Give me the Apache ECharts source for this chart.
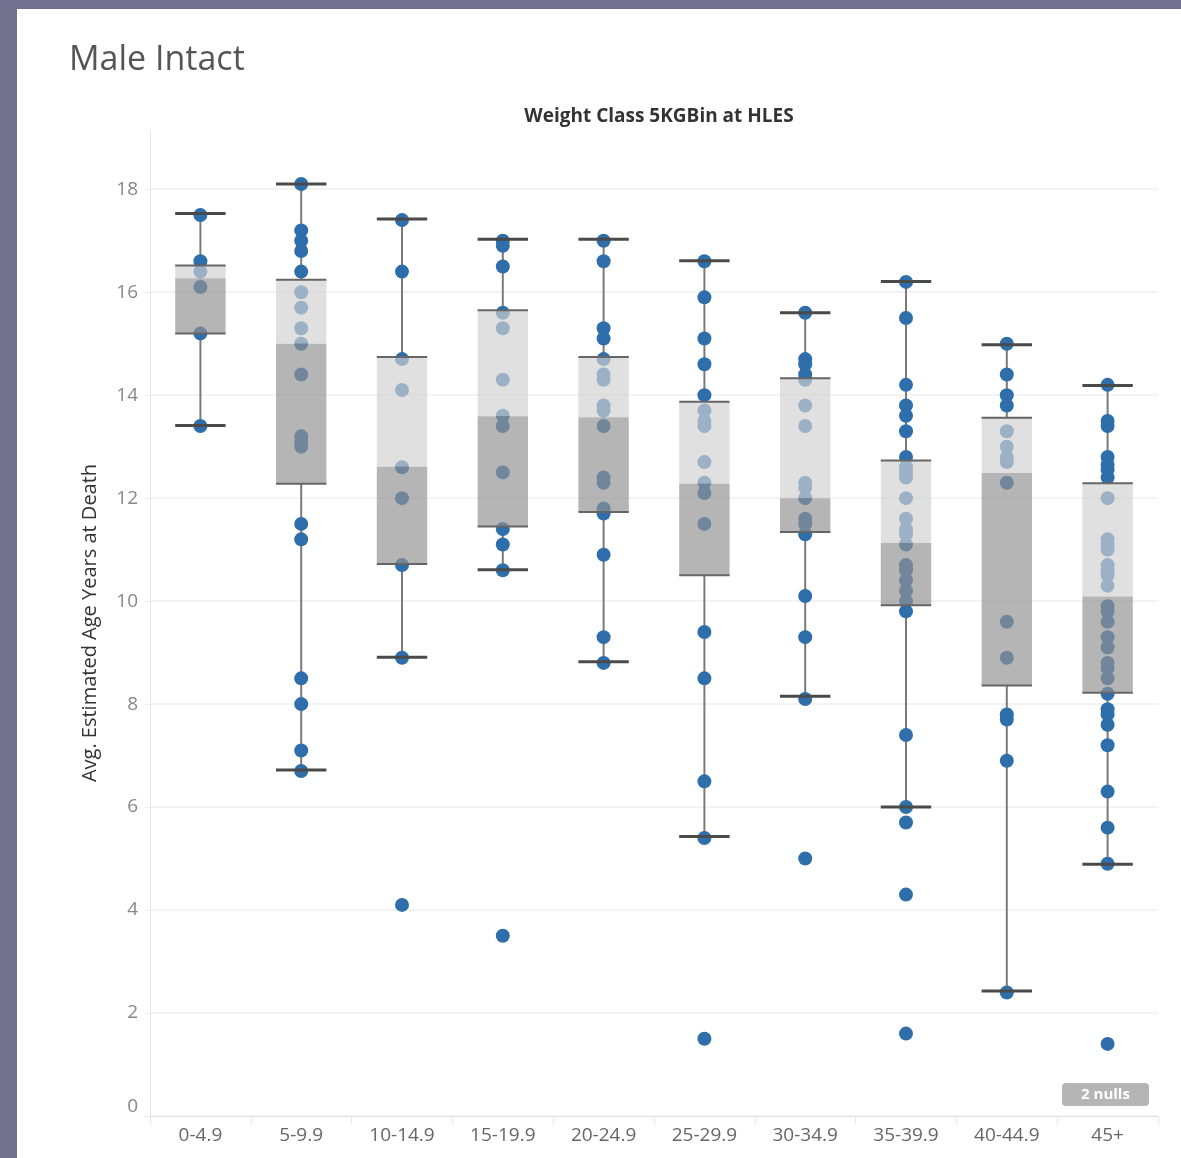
<!DOCTYPE html>
<html><head><meta charset="utf-8">
<script src="https://cdn.jsdelivr.net/npm/echarts@6/dist/echarts.min.js"></script>
<style>html,body{margin:0;padding:0;background:#fff}#c{width:1181px;height:1158px}</style>
</head><body><div id="c"></div>
<script>
const categories = ['0-4.9','5-9.9','10-14.9','15-19.9','20-24.9','25-29.9','30-34.9','35-39.9','40-44.9','45+'];
const whiskerHigh = [17.53, 18.1, 17.42, 17.03, 17.03, 16.61, 15.6, 16.21, 14.98, 14.19];
const boxQ3      = [16.52, 16.24, 14.74, 15.65, 14.74, 13.87, 14.33, 12.73, 13.56, 12.29];
const boxMedian  = [16.27, 15.0, 12.61, 13.59, 13.57, 12.28, 12.0, 11.13, 12.49, 10.09];
const boxQ1      = [15.2, 12.28, 10.72, 11.45, 11.73, 10.5, 11.34, 9.92, 8.36, 8.22];
const whiskerLow = [13.41, 6.72, 8.91, 10.61, 8.82, 5.43, 8.15, 6.0, 2.43, 4.89];

const dots_0_4 = [17.5,16.6,16.4,16.1,15.2,13.4];
const dots_5_9 = [18.1,17.2,17.0,16.8,16.4,16.0,15.7,15.3,15.0,14.4,13.2,13.1,13.0,11.5,11.2,8.5,8.0,7.1,6.7];
const dots_10_14 = [17.4,16.4,14.7,14.1,12.6,12.0,10.7,8.9,4.1];
const dots_15_19 = [17.0,16.9,16.5,15.6,15.3,14.3,13.6,13.4,12.5,11.4,11.1,10.6,3.5];
const dots_20_24 = [17.0,16.6,15.3,15.1,14.7,14.4,14.3,13.8,13.7,13.4,12.4,12.3,11.8,11.7,10.9,9.3,8.8];
const dots_25_29 = [16.6,15.9,15.1,14.6,14.0,13.7,13.5,13.4,12.7,12.3,12.1,11.5,9.4,8.5,6.5,5.4,1.5];
const dots_30_34 = [15.6,14.7,14.6,14.4,14.3,13.8,13.4,12.3,12.2,12.0,11.6,11.5,11.3,10.1,9.3,8.1,5.0];
const dots_35_39 = [16.2,15.5,14.2,13.8,13.6,13.3,12.8,12.6,12.5,12.4,12.0,11.6,11.4,11.3,11.1,10.7,10.6,10.4,10.2,10.0,9.8,7.4,6.0,5.7,4.3,1.6];
const dots_40_44 = [15.0,14.4,14.0,13.8,13.3,13.0,12.8,12.7,12.3,9.6,8.9,7.8,7.7,6.9,2.4];
const dots_45p = [14.2,13.5,13.4,12.8,12.65,12.55,12.4,12.0,11.2,11.1,11.0,10.7,10.6,10.5,10.3,9.9,9.8,9.6,9.3,9.1,8.8,8.7,8.5,8.2,7.9,7.8,7.6,7.2,6.3,5.6,4.9,1.4];

const dotGroups = [dots_0_4, dots_5_9, dots_10_14, dots_15_19, dots_20_24, dots_25_29, dots_30_34, dots_35_39, dots_40_44, dots_45p];

const scatterData = [];
dotGroups.forEach((g, i) => g.forEach(v => scatterData.push([i, v])));
const boxData = categories.map((c, i) => [i, whiskerLow[i], boxQ1[i], boxMedian[i], boxQ3[i], whiskerHigh[i]]);

const chart = echarts.init(document.getElementById('c'), null, {renderer: 'canvas'});

function whiskerRender(params, api) {
  const i = api.value(0);
  const pHigh = api.coord([i, api.value(5)]);
  const pQ3 = api.coord([i, api.value(4)]);
  const pQ1 = api.coord([i, api.value(2)]);
  const pLow = api.coord([i, api.value(1)]);
  const st = {stroke: '#7a7a7a', lineWidth: 2};
  return {type: 'group', children: [
    {type: 'line', shape: {x1: pHigh[0], y1: pHigh[1], x2: pQ3[0], y2: pQ3[1]}, style: st},
    {type: 'line', shape: {x1: pQ1[0], y1: pQ1[1], x2: pLow[0], y2: pLow[1]}, style: st}
  ]};
}

function boxRender(params, api) {
  const i = api.value(0);
  const bw = api.size([1, 0])[0] * 0.5;
  const pHigh = api.coord([i, api.value(5)]);
  const pQ3 = api.coord([i, api.value(4)]);
  const pMed = api.coord([i, api.value(3)]);
  const pQ1 = api.coord([i, api.value(2)]);
  const pLow = api.coord([i, api.value(1)]);
  const x0 = pMed[0] - bw / 2, x1 = pMed[0] + bw / 2;
  const edge = {stroke: '#666666', lineWidth: 2};
  const cap = {stroke: '#4a4a4a', lineWidth: 3};
  return {type: 'group', children: [
    {type: 'rect', shape: {x: x0, y: pQ3[1], width: bw, height: pMed[1] - pQ3[1]}, style: {fill: 'rgba(210,210,210,0.68)'}},
    {type: 'rect', shape: {x: x0, y: pMed[1], width: bw, height: pQ1[1] - pMed[1]}, style: {fill: 'rgba(146,146,146,0.68)'}},
    {type: 'line', shape: {x1: x0, y1: pQ3[1], x2: x1, y2: pQ3[1]}, style: edge},
    {type: 'line', shape: {x1: x0, y1: pQ1[1], x2: x1, y2: pQ1[1]}, style: edge},
    {type: 'line', shape: {x1: x0, y1: pHigh[1], x2: x1, y2: pHigh[1]}, style: cap},
    {type: 'line', shape: {x1: x0, y1: pLow[1], x2: x1, y2: pLow[1]}, style: cap}
  ]};
}

const option = {
  backgroundColor: '#ffffff',
  animation: false,
  title: [
    {text: 'Male Intact', left: 64, top: 38, textStyle: {fontFamily: 'Open Sans', fontSize: 34, fontWeight: 'normal', color: '#555555'}},
    {text: 'Weight Class 5KGBin at HLES', left: 654, textAlign: 'center', top: 102, textStyle: {fontFamily: 'Open Sans', fontSize: 19, fontWeight: 'bold', color: '#333333'}}
  ],
  graphic: [
    {type: 'rect', left: 0, top: 0, shape: {width: 17, height: 1158}, style: {fill: '#736f8e'}, z: 100},
    {type: 'rect', left: 0, top: 0, shape: {width: 1181, height: 9}, style: {fill: '#736f8e'}, z: 100},
    {type: 'group', left: 1062, top: 1083, z: 100, children: [
      {type: 'rect', shape: {x: 0, y: 0, width: 87, height: 23, r: 4}, style: {fill: '#b5b5b5'}},
      {type: 'text', x: 43.5, y: 12, style: {text: '2 nulls', fill: '#ffffff', font: 'bold 15px "Open Sans"', align: 'center', verticalAlign: 'middle'}}
    ]}
  ],
  grid: {left: 150, right: 23, top: 130, bottom: 42, containLabel: false},
  xAxis: {
    type: 'category', data: categories, boundaryGap: true,
    axisLine: {lineStyle: {color: '#e2e2e2', width: 1}},
    axisTick: {show: true, length: 8, lineStyle: {color: '#e6e6e6'}},
    axisLabel: {color: '#666666', fontSize: 19, fontFamily: 'Open Sans', margin: 10},
    splitLine: {show: false}
  },
  yAxis: {
    type: 'value', min: 0, max: 19.15, interval: 2,
    name: 'Avg. Estimated Age Years at Death', nameLocation: 'middle', nameGap: 50, nameRotate: 90,
    nameTextStyle: {color: '#333333', fontSize: 20, fontFamily: 'Open Sans'},
    axisLine: {show: true, lineStyle: {color: '#e6e6e6', width: 1}},
    axisTick: {show: true, length: 6, lineStyle: {color: '#eeeeee'}},
    axisLabel: {color: '#888888', fontSize: 19, fontFamily: 'Open Sans', margin: 12, showMaxLabel: false,
      verticalAlignMinLabel: 'bottom',
      formatter: v => (Math.abs(v % 2) < 1e-9 ? String(v) : '')},
    splitLine: {show: true, showMaxLine: false, lineStyle: {color: '#efefef', width: 1.5}}
  },
  series: [
    {type: 'custom', name: 'whiskers', z: 1, renderItem: whiskerRender, data: boxData, encode: {x: 0, y: [1, 5]}, silent: true},
    {type: 'scatter', name: 'dogs', z: 2, data: scatterData, symbol: 'circle', symbolSize: 14,
      itemStyle: {color: '#2e6eab', opacity: 1}},
    {type: 'custom', name: 'boxes', z: 3, renderItem: boxRender, data: boxData, encode: {x: 0, y: [1, 5]}, silent: true}
  ]
};
chart.setOption(option);
</script></body></html>
